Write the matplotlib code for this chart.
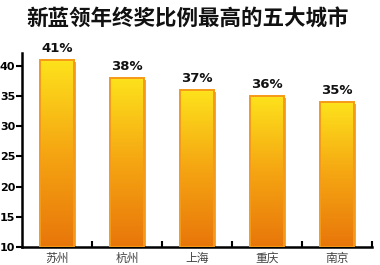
import numpy as np
import matplotlib.pyplot as plt
from matplotlib.colors import LinearSegmentedColormap
from matplotlib.patches import Rectangle

plt.rcParams['font.family'] = ['Noto Sans CJK SC', 'DejaVu Sans']

cities = ['苏州', '杭州', '上海', '重庆', '南京']
values = [41, 38, 36, 35, 34]
labels = ['41%', '38%', '37%', '36%', '35%']

cmap = LinearSegmentedColormap.from_list('yo', ['#e8760a', '#f5a512', '#fde21c'])
grad = np.linspace(0, 1, 256).reshape(-1, 1)

fig = plt.figure(figsize=(3.8, 2.65), dpi=100)
ax = fig.add_axes([0.058, 0.069, 0.921, 0.731])

w = 0.48
base = 10
for i, v in enumerate(values):
    x0 = i - w / 2
    # shadow
    ax.add_patch(Rectangle((x0 + 0.035, base), w, v - base - 0.3,
                           facecolor='#b0b0b0', edgecolor='none', zorder=1))
    ax.imshow(grad, extent=[x0, x0 + w, base, v], origin='lower',
              aspect='auto', cmap=cmap, zorder=2, interpolation='bilinear')
    ax.add_patch(Rectangle((x0, base), w, v - base, facecolor='none',
                           edgecolor='#f59a18', linewidth=1.4, zorder=3))
    ax.text(i, v + 0.9, labels[i], ha='center', va='bottom',
            fontsize=9.5, fontweight='bold', family='DejaVu Sans', color='#111111')

ax.set_xlim(-0.5, 4.5)
ax.set_ylim(10, 42.2)
ax.set_yticks([10, 15, 20, 25, 30, 35, 40])
ax.set_xticks(np.arange(0.5, 5, 1))
ax.set_xticklabels([])
ax.set_xticks(range(5), minor=True)
ax.set_xticklabels(cities, minor=True, fontsize=8.5, color='#444444')
ax.tick_params(axis='x', which='minor', length=0, pad=4)
ax.tick_params(axis='x', which='major', direction='in', length=4, width=1.5)
ax.tick_params(axis='y', direction='out', length=4, width=1.5, labelsize=8, pad=1)
for t in ax.get_yticklabels():
    t.set_fontweight('bold')
    t.set_family('DejaVu Sans')
for s in ['top', 'right']:
    ax.spines[s].set_visible(False)
for s in ['left', 'bottom']:
    ax.spines[s].set_linewidth(1.8)

fig.text(0.495, 0.928, '新蓝领年终奖比例最高的五大城市', ha='center', va='center',
         fontsize=15.5, fontweight='bold', color='#111111')

fig.savefig('out.png', dpi=100)
